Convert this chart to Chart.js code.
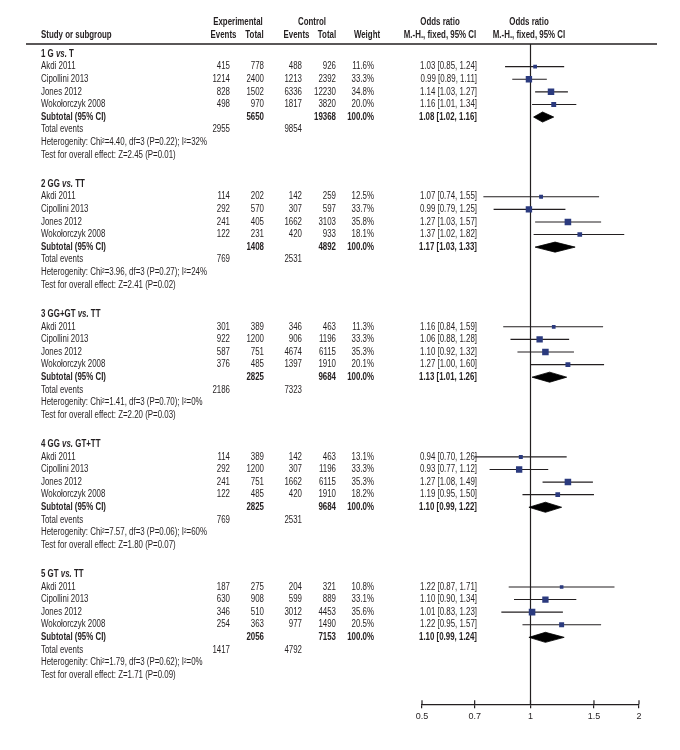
<!DOCTYPE html>
<html><head><meta charset="utf-8">
<script src="https://cdn.jsdelivr.net/npm/chart.js@4/dist/chart.umd.min.js"></script>
<style>html,body{margin:0;padding:0;background:#fff}#wrap{width:680px;height:750px;position:relative}</style>
</head><body><div id="wrap"><canvas id="c" width="680" height="750"></canvas></div>
<script>
// ---------- data ----------
const groups = ['1 G vs. T', '2 GG vs. TT', '3 GG+GT vs. TT', '4 GG vs. GT+TT', '5 GT vs. TT'];
const studies = ['Akdi 2011', 'Cipollini 2013', 'Jones 2012', 'Wokołorczyk 2008'];
const expEvents = [[415,1214,828,498],[114,292,241,122],[301,922,587,376],[114,292,241,122],[187,630,346,254]];
const expTotal = [[778,2400,1502,970],[202,570,405,231],[389,1200,751,485],[389,1200,751,485],[275,908,510,363]];
const ctrlEvents = [[488,1213,6336,1817],[142,307,1662,420],[346,906,4674,1397],[142,307,1662,420],[204,599,3012,977]];
const ctrlTotal = [[926,2392,12230,3820],[259,597,3103,933],[463,1196,6115,1910],[463,1196,6115,1910],[321,889,4453,1490]];
const weights = [[11.6,33.3,34.8,20.0],[12.5,33.7,35.8,18.1],[11.3,33.3,35.3,20.1],[13.1,33.3,35.3,18.2],[10.8,33.1,35.6,20.5]];
const orEst = [[1.03,0.99,1.14,1.16],[1.07,0.99,1.27,1.37],[1.16,1.06,1.10,1.27],[0.94,0.93,1.27,1.19],[1.22,1.10,1.01,1.22]];
const orLow = [[0.85,0.89,1.03,1.01],[0.74,0.79,1.03,1.02],[0.84,0.88,0.92,1.00],[0.70,0.77,1.08,0.95],[0.87,0.90,0.83,0.95]];
const orHigh = [[1.24,1.11,1.27,1.34],[1.55,1.25,1.57,1.82],[1.59,1.28,1.32,1.60],[1.26,1.12,1.49,1.50],[1.71,1.34,1.23,1.57]];
const subExpTotal = [5650,1408,2825,2825,2056];
const subCtrlTotal = [19368,4892,9684,9684,7153];
const subEst = [1.08,1.17,1.13,1.10,1.10];
const subLow = [1.02,1.03,1.01,0.99,0.99];
const subHigh = [1.16,1.33,1.26,1.22,1.24];
const totalExpEvents = [2955,769,2186,769,1417];
const totalCtrlEvents = [9854,2531,7323,2531,4792];
const heterogeneity = ['Chi²=4.40, df=3 (P=0.22); I²=32%','Chi²=3.96, df=3 (P=0.27); I²=24%','Chi²=1.41, df=3 (P=0.70); I²=0%','Chi²=7.57, df=3 (P=0.06); I²=60%','Chi²=1.79, df=3 (P=0.62); I²=0%'];
const overallEffect = ['Z=2.45 (P=0.01)','Z=2.41 (P=0.02)','Z=2.20 (P=0.03)','Z=1.80 (P=0.07)','Z=1.71 (P=0.09)'];
const xTicks = [0.5, 0.7, 1, 1.5, 2];

// ---------- layout / style ----------
const FONT = "'Liberation Sans', Arial, sans-serif";
const FS = 10;
const SX = 0.79;            // horizontal condensing of table text
const INK = '#231f20';
const NAVY = '#2b3a7e';
const GROUP_PITCH = 10.33;
const rowOf = (g, r) => g * GROUP_PITCH + r;
const COL = {label: 41, expEv: 230, expTot: 264, ctrlEv: 302, ctrlTot: 336, weight: 374, orText: 477};

const fmtW = w => w.toFixed(1) + '%';
const fmtOR = (e, l, h) => e.toFixed(2) + ' [' + l.toFixed(2) + ', ' + h.toFixed(2) + ']';

// ---------- datasets ----------
const ciData = [], sqData = [], sqRadius = [];
groups.forEach((g, gi) => {
  studies.forEach((s, si) => {
    const y = rowOf(gi, si + 1);
    ciData.push({x: orLow[gi][si], y}, {x: orHigh[gi][si], y}, {x: orHigh[gi][si], y: null});
    sqData.push({x: orEst[gi][si], y});
    sqRadius.push(1.1 * Math.sqrt(weights[gi][si]) / Math.SQRT2);
  });
});
const diamondSets = groups.map((g, gi) => {
  const y = rowOf(gi, 5), h = 0.4;
  return {type: 'line', data: [{x: subLow[gi], y}, {x: subEst[gi], y: y - h}, {x: subHigh[gi], y}, {x: subEst[gi], y: y + h}, {x: subLow[gi], y}],
    borderColor: '#000', backgroundColor: '#000', borderWidth: 0.8, pointRadius: 0, fill: 'shape', tension: 0, order: 1};
});

const datasets = [
  {type: 'scatter', data: sqData, pointStyle: 'rect', pointRadius: sqRadius, backgroundColor: NAVY, borderWidth: 0, order: 0},
  {type: 'line', data: ciData, borderColor: INK, borderWidth: 1.1, pointRadius: 0, spanGaps: false, fill: false, tension: 0, order: 2},
  ...diamondSets
];

// ---------- table text plugin ----------
function setFont(ctx, weight, style) {
  ctx.font = (style || 'normal') + ' ' + (weight || 'normal') + ' ' + FS + 'px ' + FONT;
}
function txt(ctx, s, x, y, align, weight, style) {
  setFont(ctx, weight, style);
  ctx.save();
  ctx.translate(x, y);
  ctx.scale(SX, 1);
  ctx.textAlign = align || 'left';
  ctx.fillText(s, 0, 0);
  ctx.restore();
  return ctx.measureText(s).width * SX;
}
const tablePlugin = {
  id: 'table',
  beforeDatasetsDraw(chart) {
    const ctx = chart.ctx, ys = chart.scales.y, xs = chart.scales.x, ca = chart.chartArea;
    ctx.save();
    ctx.fillStyle = INK; ctx.textBaseline = 'middle';
    // header
    const h1 = 22.7, h2 = 35;
    txt(ctx, 'Study or subgroup', COL.label, h2, 'left', 'bold');
    txt(ctx, 'Experimental', 238, h1, 'center', 'bold');
    txt(ctx, 'Events', 223.5, h2, 'center', 'bold');
    txt(ctx, 'Total', 254.5, h2, 'center', 'bold');
    txt(ctx, 'Control', 312, h1, 'center', 'bold');
    txt(ctx, 'Events', 296.5, h2, 'center', 'bold');
    txt(ctx, 'Total', 327, h2, 'center', 'bold');
    txt(ctx, 'Weight', 367, h2, 'center', 'bold');
    txt(ctx, 'Odds ratio', 440, h1, 'center', 'bold');
    txt(ctx, 'M.-H., fixed, 95% CI', 440, h2, 'center', 'bold');
    txt(ctx, 'Odds ratio', 529, h1, 'center', 'bold');
    txt(ctx, 'M.-H., fixed, 95% CI', 529, h2, 'center', 'bold');
    // rule
    ctx.strokeStyle = INK; ctx.lineWidth = 1.4;
    ctx.beginPath(); ctx.moveTo(26, ca.top); ctx.lineTo(657, ca.top); ctx.stroke();

    groups.forEach((g, gi) => {
      const py = r => ys.getPixelForValue(rowOf(gi, r));
      // group header with italic "vs."
      const parts = g.split('vs.');
      let x = COL.label;
      x += txt(ctx, parts[0], x, py(0), 'left', 'bold');
      x += txt(ctx, 'vs.', x, py(0), 'left', 'bold', 'italic');
      txt(ctx, parts[1], x, py(0), 'left', 'bold');
      studies.forEach((s, si) => {
        const y = py(si + 1);
        txt(ctx, s, COL.label, y, 'left');
        txt(ctx, String(expEvents[gi][si]), COL.expEv, y, 'right');
        txt(ctx, String(expTotal[gi][si]), COL.expTot, y, 'right');
        txt(ctx, String(ctrlEvents[gi][si]), COL.ctrlEv, y, 'right');
        txt(ctx, String(ctrlTotal[gi][si]), COL.ctrlTot, y, 'right');
        txt(ctx, fmtW(weights[gi][si]), COL.weight, y, 'right');
        txt(ctx, fmtOR(orEst[gi][si], orLow[gi][si], orHigh[gi][si]), COL.orText, y, 'right');
      });
      let y = py(5);
      txt(ctx, 'Subtotal (95% CI)', COL.label, y, 'left', 'bold');
      txt(ctx, String(subExpTotal[gi]), COL.expTot, y, 'right', 'bold');
      txt(ctx, String(subCtrlTotal[gi]), COL.ctrlTot, y, 'right', 'bold');
      txt(ctx, '100.0%', COL.weight, y, 'right', 'bold');
      txt(ctx, fmtOR(subEst[gi], subLow[gi], subHigh[gi]), COL.orText, y, 'right', 'bold');
      y = py(6);
      txt(ctx, 'Total events', COL.label, y, 'left');
      txt(ctx, String(totalExpEvents[gi]), COL.expEv, y, 'right');
      txt(ctx, String(totalCtrlEvents[gi]), COL.ctrlEv, y, 'right');
      txt(ctx, 'Heterogenity: ' + heterogeneity[gi], COL.label, py(7), 'left');
      txt(ctx, 'Test for overall effect: ' + overallEffect[gi], COL.label, py(8), 'left');
    });
    // line of no effect
    const x1 = xs.getPixelForValue(1);
    ctx.lineWidth = 1.2;
    ctx.beginPath(); ctx.moveTo(x1, ca.top); ctx.lineTo(x1, ca.bottom); ctx.stroke();
    ctx.restore();
  },
  afterDraw(chart) {
    const ctx = chart.ctx, xs = chart.scales.x, ca = chart.chartArea;
    ctx.save(); ctx.strokeStyle = INK; ctx.lineWidth = 1.2;
    xs.ticks.forEach(t => {
      const px = xs.getPixelForValue(t.value);
      ctx.beginPath(); ctx.moveTo(px, ca.bottom - 4); ctx.lineTo(px, ca.bottom); ctx.stroke();
    });
    ctx.restore();
  }
};

new Chart(document.getElementById('c'), {
  type: 'scatter',
  data: {datasets},
  options: {
    responsive: false, animation: false,
    layout: {padding: {left: 422, right: 41, top: 44, bottom: 25}},
    plugins: {legend: {display: false}, tooltip: {enabled: false}},
    scales: {
      x: {type: 'logarithmic', min: 0.5, max: 2, position: 'bottom',
        afterBuildTicks: s => { s.ticks = xTicks.map(v => ({value: v})); },
        ticks: {callback: v => String(v), font: {family: FONT, size: 9}, color: INK, padding: 3, maxRotation: 0, autoSkip: false},
        grid: {drawOnChartArea: false, drawTicks: true, tickLength: 4, color: INK, lineWidth: 1.2},
        border: {display: true, color: INK, width: 1.2}},
      y: {type: 'linear', reverse: true, min: -0.8, max: 51.63, display: false}
    }
  },
  plugins: [tablePlugin]
});
</script></body></html>
